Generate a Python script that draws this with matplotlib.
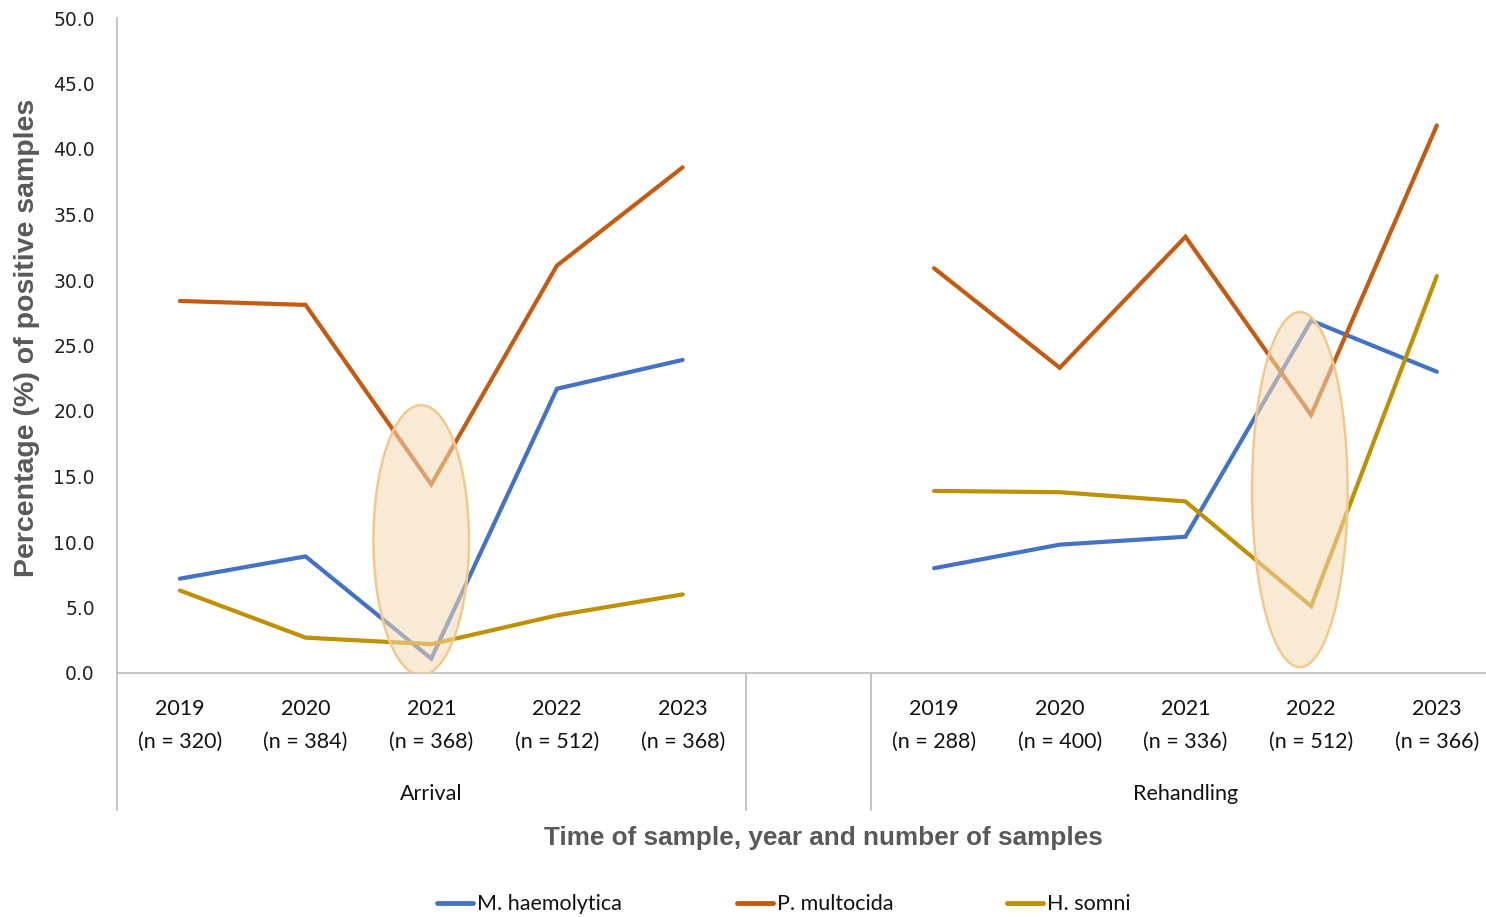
import matplotlib as mpl
import matplotlib.pyplot as plt
from matplotlib.patches import Ellipse
from matplotlib.lines import Line2D
import numpy as np

# data
years = ["2019", "2020", "2021", "2022", "2023"]
n_arrival = [320, 384, 368, 512, 368]
n_rehandling = [288, 400, 336, 512, 366]
groups = ["Arrival", "Rehandling"]

mh_arrival = [7.2, 8.9, 1.1, 21.7, 23.9]
pm_arrival = [28.4, 28.1, 14.4, 31.1, 38.6]
hs_arrival = [6.3, 2.7, 2.2, 4.4, 6.0]

mh_rehandling = [8.0, 9.8, 10.4, 26.9, 23.0]
pm_rehandling = [30.9, 23.3, 33.3, 19.7, 41.8]
hs_rehandling = [13.9, 13.8, 13.1, 5.1, 30.3]

series_names = ["M. haemolytica", "P. multocida", "H. somni"]
colors = ["#4472C4", "#C55A11", "#BF9000"]

label_font = ["Lato", "DejaVu Sans"]
grey = "#595959"
axis_grey = "#BFBFBF"

W, H = 1486, 917
fig = plt.figure(figsize=(W / 100, H / 100), dpi=100)

# axes: left edge at 117px, x-axis at 673px, top (50.0) at 18px
left, bottom, top = 117 / W, 1 - 673 / H, 1 - 18 / H
ax = fig.add_axes([left, bottom, 1 - left, top - bottom])

cat_w = 125.7  # px per category
x_arr = np.arange(5)
x_reh = np.arange(5) + 6

arrival = [mh_arrival, pm_arrival, hs_arrival]
rehandling = [mh_rehandling, pm_rehandling, hs_rehandling]
for name, c, a, r in zip(series_names, colors, arrival, rehandling):
    ax.plot(x_arr, a, color=c, lw=3.0, solid_capstyle="round", solid_joinstyle="miter", zorder=3)
    ax.plot(x_reh, r, color=c, lw=3.0, solid_capstyle="round", solid_joinstyle="miter", zorder=3)

# highlight ellipses drawn over the lines
for cx, cy, w, h in [(1.92, 10.15, 0.76, 20.6), (8.91, 14.0, 0.76, 27.1)]:
    ax.add_patch(Ellipse((cx, cy), w, h, facecolor="#F4DAB4", alpha=0.55,
                         edgecolor="none", zorder=4))
    ax.add_patch(Ellipse((cx, cy), w, h, facecolor="none",
                         edgecolor="#F2C98C", lw=1.8, zorder=5))

ax.set_xlim(-0.5, (W - 117) / cat_w - 0.5)
ax.set_ylim(0, 50)
ax.set_yticks(np.arange(0, 51, 5))
ax.set_yticklabels([f"{v:.1f}" for v in np.arange(0, 51, 5)], fontsize=13.5, color="#222222")
ax.tick_params(axis="y", length=0, pad=16)
ax.set_xticks([])
for s in ["top", "right"]:
    ax.spines[s].set_visible(False)
for s in ["left", "bottom"]:
    ax.spines[s].set_color(axis_grey)
    ax.spines[s].set_linewidth(1.3)

# category labels
trans = mpl.transforms.blended_transform_factory(ax.transData, fig.transFigure)
for xs, ns in [(x_arr, n_arrival), (x_reh, n_rehandling)]:
    for x, yr, n in zip(xs, years, ns):
        ax.text(x, 1 - 709 / H, yr, transform=trans, ha="center", va="center",
                fontsize=15.5, family=label_font, color="#111111")
        ax.text(x, 1 - 742 / H, f"(n = {n})", transform=trans, ha="center", va="center",
                fontsize=15.5, family=label_font, color="#111111")
ax.text(2, 1 - 794 / H, groups[0], transform=trans, ha="center", va="center",
        fontsize=15.5, family=label_font, color="#111111")
ax.text(8, 1 - 794 / H, groups[1], transform=trans, ha="center", va="center",
        fontsize=15.5, family=label_font, color="#111111")

# group separator lines below axis
for xv in [-0.5, 4.5, 5.5]:
    ax.add_line(Line2D([xv, xv], [1 - 673 / H, 1 - 810 / H], transform=trans,
                       color=axis_grey, lw=1.3, clip_on=False))

# axis titles
fig.text(27 / W, 1 - 338 / H, "Percentage (%) of positive samples", rotation=90,
         ha="center", va="center", fontsize=20.5, fontweight="bold",
         family="Liberation Sans", color=grey)
fig.text(823 / W, 1 - 838 / H, "Time of sample, year and number of samples",
         ha="center", va="center", fontsize=18.8, fontweight="bold",
         family="Liberation Sans", color=grey)

# legend, placed by hand like the Excel one
for x0, name, c in zip([437, 737, 1007], series_names, colors):
    fig.add_artist(Line2D([x0 / W, (x0 + 36) / W], [1 - 903 / H] * 2, color=c, lw=3.5,
                          solid_capstyle="round"))
    fig.text((x0 + 40) / W, 1 - 904 / H, name, ha="left", va="center",
             fontsize=15.5, family=label_font, color="#111111")

plt.savefig("out.png", dpi=100)
